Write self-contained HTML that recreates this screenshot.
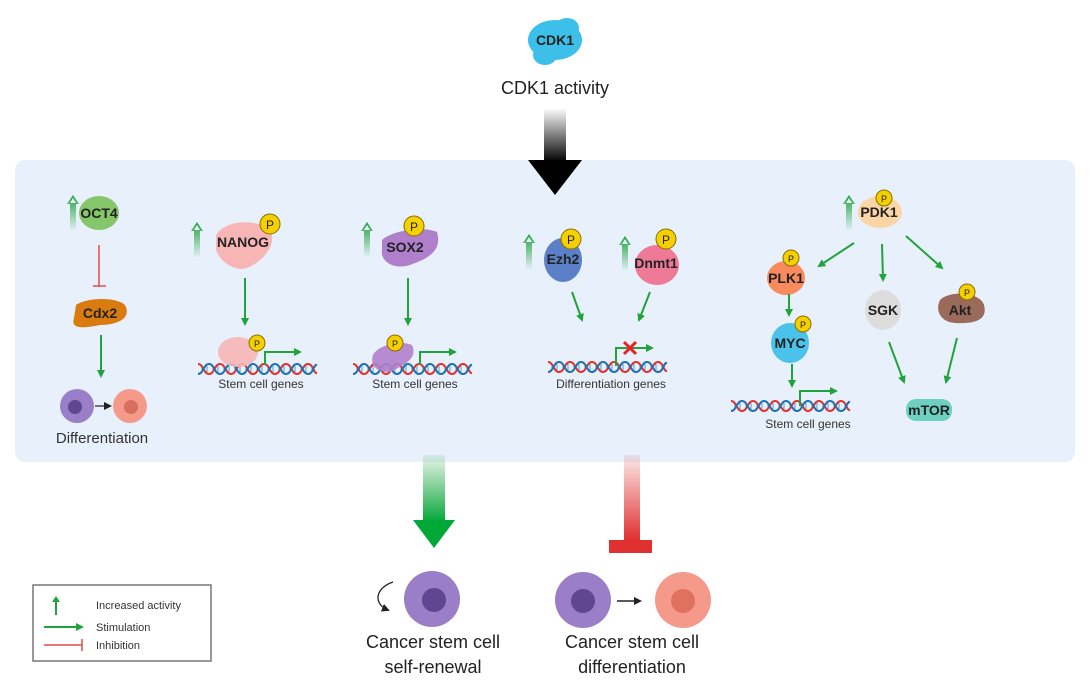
<!DOCTYPE html>
<html><head><meta charset="utf-8"><style>
html,body{margin:0;padding:0;background:#fff;}
svg{display:block;font-family:"Liberation Sans",sans-serif;}
.lb{font-weight:bold;font-size:14px;fill:#222;text-anchor:middle;}
.sm{font-size:12px;fill:#333;text-anchor:middle;}
.big{font-size:18px;fill:#222;text-anchor:middle;}
.g{stroke:#1fa33a;stroke-width:2;fill:none;}
</style></head><body>
<svg width="1092" height="684" viewBox="0 0 1092 684">
<defs>
<marker id="ah" markerWidth="8" markerHeight="8" refX="6" refY="4" orient="auto" markerUnits="userSpaceOnUse"><path d="M0,0 L8,4 L0,8 z" fill="#1fa33a"/></marker>
<marker id="bh" markerWidth="8" markerHeight="8" refX="6" refY="4" orient="auto" markerUnits="userSpaceOnUse"><path d="M0,0 L8,4 L0,8 z" fill="#222"/></marker>
<g id="dna">
<g stroke="#4aa0c8" stroke-width="1">
<path d="M4,4V10M9,4V10M15,4V10M20,4V10M26,4V10M31,4V10M37,4V10M42,4V10M48,4V10M53,4V10M59,4V10M64,4V10M70,4V10M75,4V10M81,4V10M86,4V10M92,4V10M97,4V10M103,4V10M108,4V10M114,4V10"/>
</g>
<path d="M0,2 C5.5,2 5.5,12 11,12 S16.5,2 22,2 S27.5,12 33,12 S38.5,2 44,2 S49.5,12 55,12 S60.5,2 66,2 S71.5,12 77,12 S82.5,2 88,2 S93.5,12 99,12 S104.5,2 110,2 S115.5,12 119,11" stroke="#e03030" stroke-width="2" fill="none"/>
<path d="M0,12 C5.5,12 5.5,2 11,2 S16.5,12 22,12 S27.5,2 33,2 S38.5,12 44,12 S49.5,2 55,2 S60.5,12 66,12 S71.5,2 77,2 S82.5,12 88,12 S93.5,2 99,2 S104.5,12 110,12 S115.5,2 119,3" stroke="#1e6fb0" stroke-width="2" fill="none"/>
</g>
<linearGradient id="gk" x1="0" y1="0" x2="0" y2="1"><stop offset="0" stop-color="#000" stop-opacity="0"/><stop offset="1" stop-color="#000"/></linearGradient>
<linearGradient id="gg" x1="0" y1="0" x2="0" y2="1"><stop offset="0" stop-color="#1fa33a" stop-opacity="0.1"/><stop offset="1" stop-color="#00a838"/></linearGradient>
<linearGradient id="gr" x1="0" y1="0" x2="0" y2="1"><stop offset="0" stop-color="#e03030" stop-opacity="0.1"/><stop offset="1" stop-color="#e03030"/></linearGradient>
<linearGradient id="gu" x1="0" y1="0" x2="0" y2="1"><stop offset="0" stop-color="#1fa33a"/><stop offset="1" stop-color="#1fa33a" stop-opacity="0"/></linearGradient>
<g id="up"><path d="M0,0 L-6,9 L-3,9 L-3,36 L3,36 L3,9 L6,9 z" fill="url(#gu)"/><path d="M0,3 L-3,8 L3,8z" fill="#e8f1fb"/></g>
<g id="pp"><circle r="10" fill="#f5d000" stroke="#8a6d00" stroke-width="1"/><text y="5" font-size="12" text-anchor="middle" fill="#222">P</text></g>
<g id="pps"><circle r="8" fill="#f5d000" stroke="#8a6d00" stroke-width="1"/><text y="4" font-size="9" text-anchor="middle" fill="#222">P</text></g>
</defs>

<!-- CDK1 -->
<ellipse cx="555" cy="40" rx="27" ry="20" fill="#3cbfe8"/>
<ellipse cx="545" cy="55" rx="12" ry="10" fill="#3cbfe8"/>
<ellipse cx="567" cy="28" rx="12" ry="10" fill="#3cbfe8"/>
<text x="555" y="45" class="lb" font-size="12">CDK1</text>
<text x="555" y="94" class="big">CDK1 activity</text>

<!-- panel -->
<rect x="15" y="160" width="1060" height="302" rx="10" fill="#e8f1fb"/>

<!-- black arrow -->
<rect x="544" y="108" width="22" height="54" fill="url(#gk)"/>
<path d="M528,160 L582,160 L555,195 z" fill="#000"/>

<!-- OCT4 column -->
<use href="#up" x="73" y="195"/>
<ellipse cx="99" cy="213" rx="20" ry="17" fill="#86c66a"/>
<text x="99" y="218" class="lb" font-size="13">OCT4</text>
<line x1="99" y1="245" x2="99" y2="286" stroke="#e04a4a" stroke-width="1.5"/>
<line x1="93" y1="286" x2="106" y2="286" stroke="#e04a4a" stroke-width="1.5"/>
<path d="M76,305 C85,298 115,296 125,305 C132,318 118,325 100,325 C85,328 70,330 74,318z" fill="#d97b0e"/>
<text x="100" y="318" class="lb" font-size="13">Cdx2</text>
<line class="g" x1="101" y1="335" x2="101" y2="376" marker-end="url(#ah)"/>
<circle cx="77" cy="406" r="17" fill="#9a7fc8"/><circle cx="75" cy="407" r="7" fill="#5e4690"/>
<line x1="95" y1="406" x2="110" y2="406" stroke="#222" stroke-width="1.2" marker-end="url(#bh)"/>
<circle cx="130" cy="406" r="17" fill="#f59a8a"/><circle cx="131" cy="407" r="7" fill="#d86e5e"/>
<text x="102" y="443" font-size="15" fill="#333" text-anchor="middle">Differentiation</text>

<!-- NANOG -->
<use href="#up" x="197" y="222"/>
<path d="M216,235 C225,220 255,218 270,230 C278,245 262,262 247,268 C235,272 220,262 216,250z" fill="#f7b5b5"/>
<text x="243" y="247" class="lb" font-size="13">NANOG</text>
<use href="#pp" x="270" y="224"/>
<line class="g" x1="245" y1="278" x2="245" y2="324" marker-end="url(#ah)"/>
<use href="#dna" x="198" y="362"/>
<ellipse cx="238" cy="352" rx="20" ry="15" fill="#f7b5b5" opacity="0.9"/>
<use href="#pps" x="257" y="343"/>
<path class="g" d="M265,365 L265,352 L300,352" marker-end="url(#ah)"/>
<text x="261" y="388" class="sm">Stem cell genes</text>

<!-- SOX2 -->
<use href="#up" x="367" y="222"/>
<path d="M382,240 C390,232 420,225 437,232 C442,250 430,258 410,265 C395,270 380,262 382,250z" fill="#b07fcc"/>
<text x="405" y="252" class="lb" font-size="13">SOX2</text>
<use href="#pp" x="414" y="226"/>
<line class="g" x1="408" y1="278" x2="408" y2="324" marker-end="url(#ah)"/>
<use href="#dna" x="353" y="362"/>
<path d="M373,355 C378,345 400,340 412,345 C418,358 405,365 390,372 C375,372 370,365 373,355z" fill="#b07fcc" opacity="0.9"/>
<use href="#pps" x="395" y="343"/>
<path class="g" d="M420,365 L420,352 L455,352" marker-end="url(#ah)"/>
<text x="415" y="388" class="sm">Stem cell genes</text>

<!-- Ezh2 / Dnmt1 -->
<use href="#up" x="529" y="234"/>
<ellipse cx="563" cy="260" rx="19" ry="22" fill="#5b80c8"/>
<text x="563" y="264" class="lb" font-size="13">Ezh2</text>
<use href="#pp" x="571" y="239"/>
<use href="#up" x="625" y="236"/>
<ellipse cx="657" cy="265" rx="22" ry="20" fill="#ee7a98"/>
<text x="656" y="268" class="lb" font-size="13">Dnmt1</text>
<use href="#pp" x="666" y="239"/>
<line class="g" x1="572" y1="292" x2="582" y2="320" marker-end="url(#ah)"/>
<line class="g" x1="650" y1="292" x2="639" y2="320" marker-end="url(#ah)"/>
<use href="#dna" x="548" y="360"/>
<path class="g" d="M616,366 L616,348 L652,348" marker-end="url(#ah)"/>
<path d="M624,342 L636,354 M636,342 L624,354" stroke="#e82020" stroke-width="3"/>
<text x="611" y="388" class="sm">Differentiation genes</text>

<!-- PDK1 branch -->
<use href="#up" x="849" y="195"/>
<ellipse cx="880" cy="212" rx="22" ry="16" fill="#fcd5a6"/>
<text x="879" y="217" class="lb" font-size="13">PDK1</text>
<use href="#pps" x="884" y="198"/>
<line class="g" x1="854" y1="243" x2="819" y2="266" marker-end="url(#ah)"/>
<line class="g" x1="882" y1="244" x2="883" y2="280" marker-end="url(#ah)"/>
<line class="g" x1="906" y1="236" x2="942" y2="268" marker-end="url(#ah)"/>
<ellipse cx="786" cy="278" rx="19" ry="17" fill="#f98a5e"/>
<text x="786" y="283" class="lb" font-size="13">PLK1</text>
<use href="#pps" x="791" y="258"/>
<line class="g" x1="789" y1="294" x2="789" y2="315" marker-end="url(#ah)"/>
<ellipse cx="790" cy="343" rx="19" ry="20" fill="#4ac2ea"/>
<text x="790" y="348" class="lb" font-size="13">MYC</text>
<use href="#pps" x="803" y="324"/>
<line class="g" x1="792" y1="364" x2="792" y2="386" marker-end="url(#ah)"/>
<use href="#dna" x="731" y="399"/>
<path class="g" d="M800,406 L800,391 L836,391" marker-end="url(#ah)"/>
<text x="808" y="428" class="sm">Stem cell genes</text>
<ellipse cx="883" cy="310" rx="18" ry="20" fill="#ddd"/>
<text x="883" y="315" class="lb" font-size="13">SGK</text>
<path d="M940,300 C950,290 980,292 984,305 C988,320 975,324 955,323 C940,322 935,310 940,300z" fill="#9a6a5a"/>
<text x="960" y="315" class="lb" font-size="13">Akt</text>
<use href="#pps" x="967" y="292"/>
<line class="g" x1="889" y1="342" x2="904" y2="382" marker-end="url(#ah)"/>
<line class="g" x1="957" y1="338" x2="946" y2="382" marker-end="url(#ah)"/>
<rect x="906" y="399" width="46" height="22" rx="10" fill="#6ed0c0"/>
<text x="929" y="415" class="lb" font-size="13">mTOR</text>

<!-- big arrows -->
<rect x="423" y="455" width="22" height="67" fill="url(#gg)"/>
<path d="M413,520 L455,520 L434,548 z" fill="#00a838"/>
<rect x="624" y="455" width="16" height="85" fill="url(#gr)"/>
<rect x="609" y="540" width="43" height="13" fill="#e03030"/>

<!-- bottom cells -->
<path d="M393,582 C375,588 373,604 388,610" stroke="#222" stroke-width="1.3" fill="none" marker-end="url(#bh)"/>
<circle cx="432" cy="599" r="28" fill="#9a7fc8"/><circle cx="434" cy="600" r="12" fill="#5e4690"/>
<text x="433" y="648" class="big">Cancer stem cell</text>
<text x="433" y="673" class="big">self-renewal</text>
<circle cx="583" cy="600" r="28" fill="#9a7fc8"/><circle cx="583" cy="601" r="12" fill="#5e4690"/>
<line x1="617" y1="601" x2="640" y2="601" stroke="#222" stroke-width="1.5" marker-end="url(#bh)"/>
<circle cx="683" cy="600" r="28" fill="#f59a8a"/><circle cx="683" cy="601" r="12" fill="#e07060"/>
<text x="632" y="648" class="big">Cancer stem cell</text>
<text x="632" y="673" class="big">differentiation</text>

<!-- legend -->
<rect x="33" y="585" width="178" height="76" fill="#fff" stroke="#777" stroke-width="1.5"/>
<path d="M56,596 L52,602 L55,602 L55,615 L57,615 L57,602 L60,602 z" fill="#1fa33a"/>
<text x="96" y="609" font-size="11" fill="#333">Increased activity</text>
<line class="g" x1="44" y1="627" x2="82" y2="627" marker-end="url(#ah)"/>
<text x="96" y="631" font-size="11" fill="#333">Stimulation</text>
<line x1="44" y1="645" x2="82" y2="645" stroke="#e04a4a" stroke-width="1.5"/>
<line x1="82" y1="639" x2="82" y2="651" stroke="#e04a4a" stroke-width="1.5"/>
<text x="96" y="649" font-size="11" fill="#333">Inhibition</text>
</svg>
</body></html>
